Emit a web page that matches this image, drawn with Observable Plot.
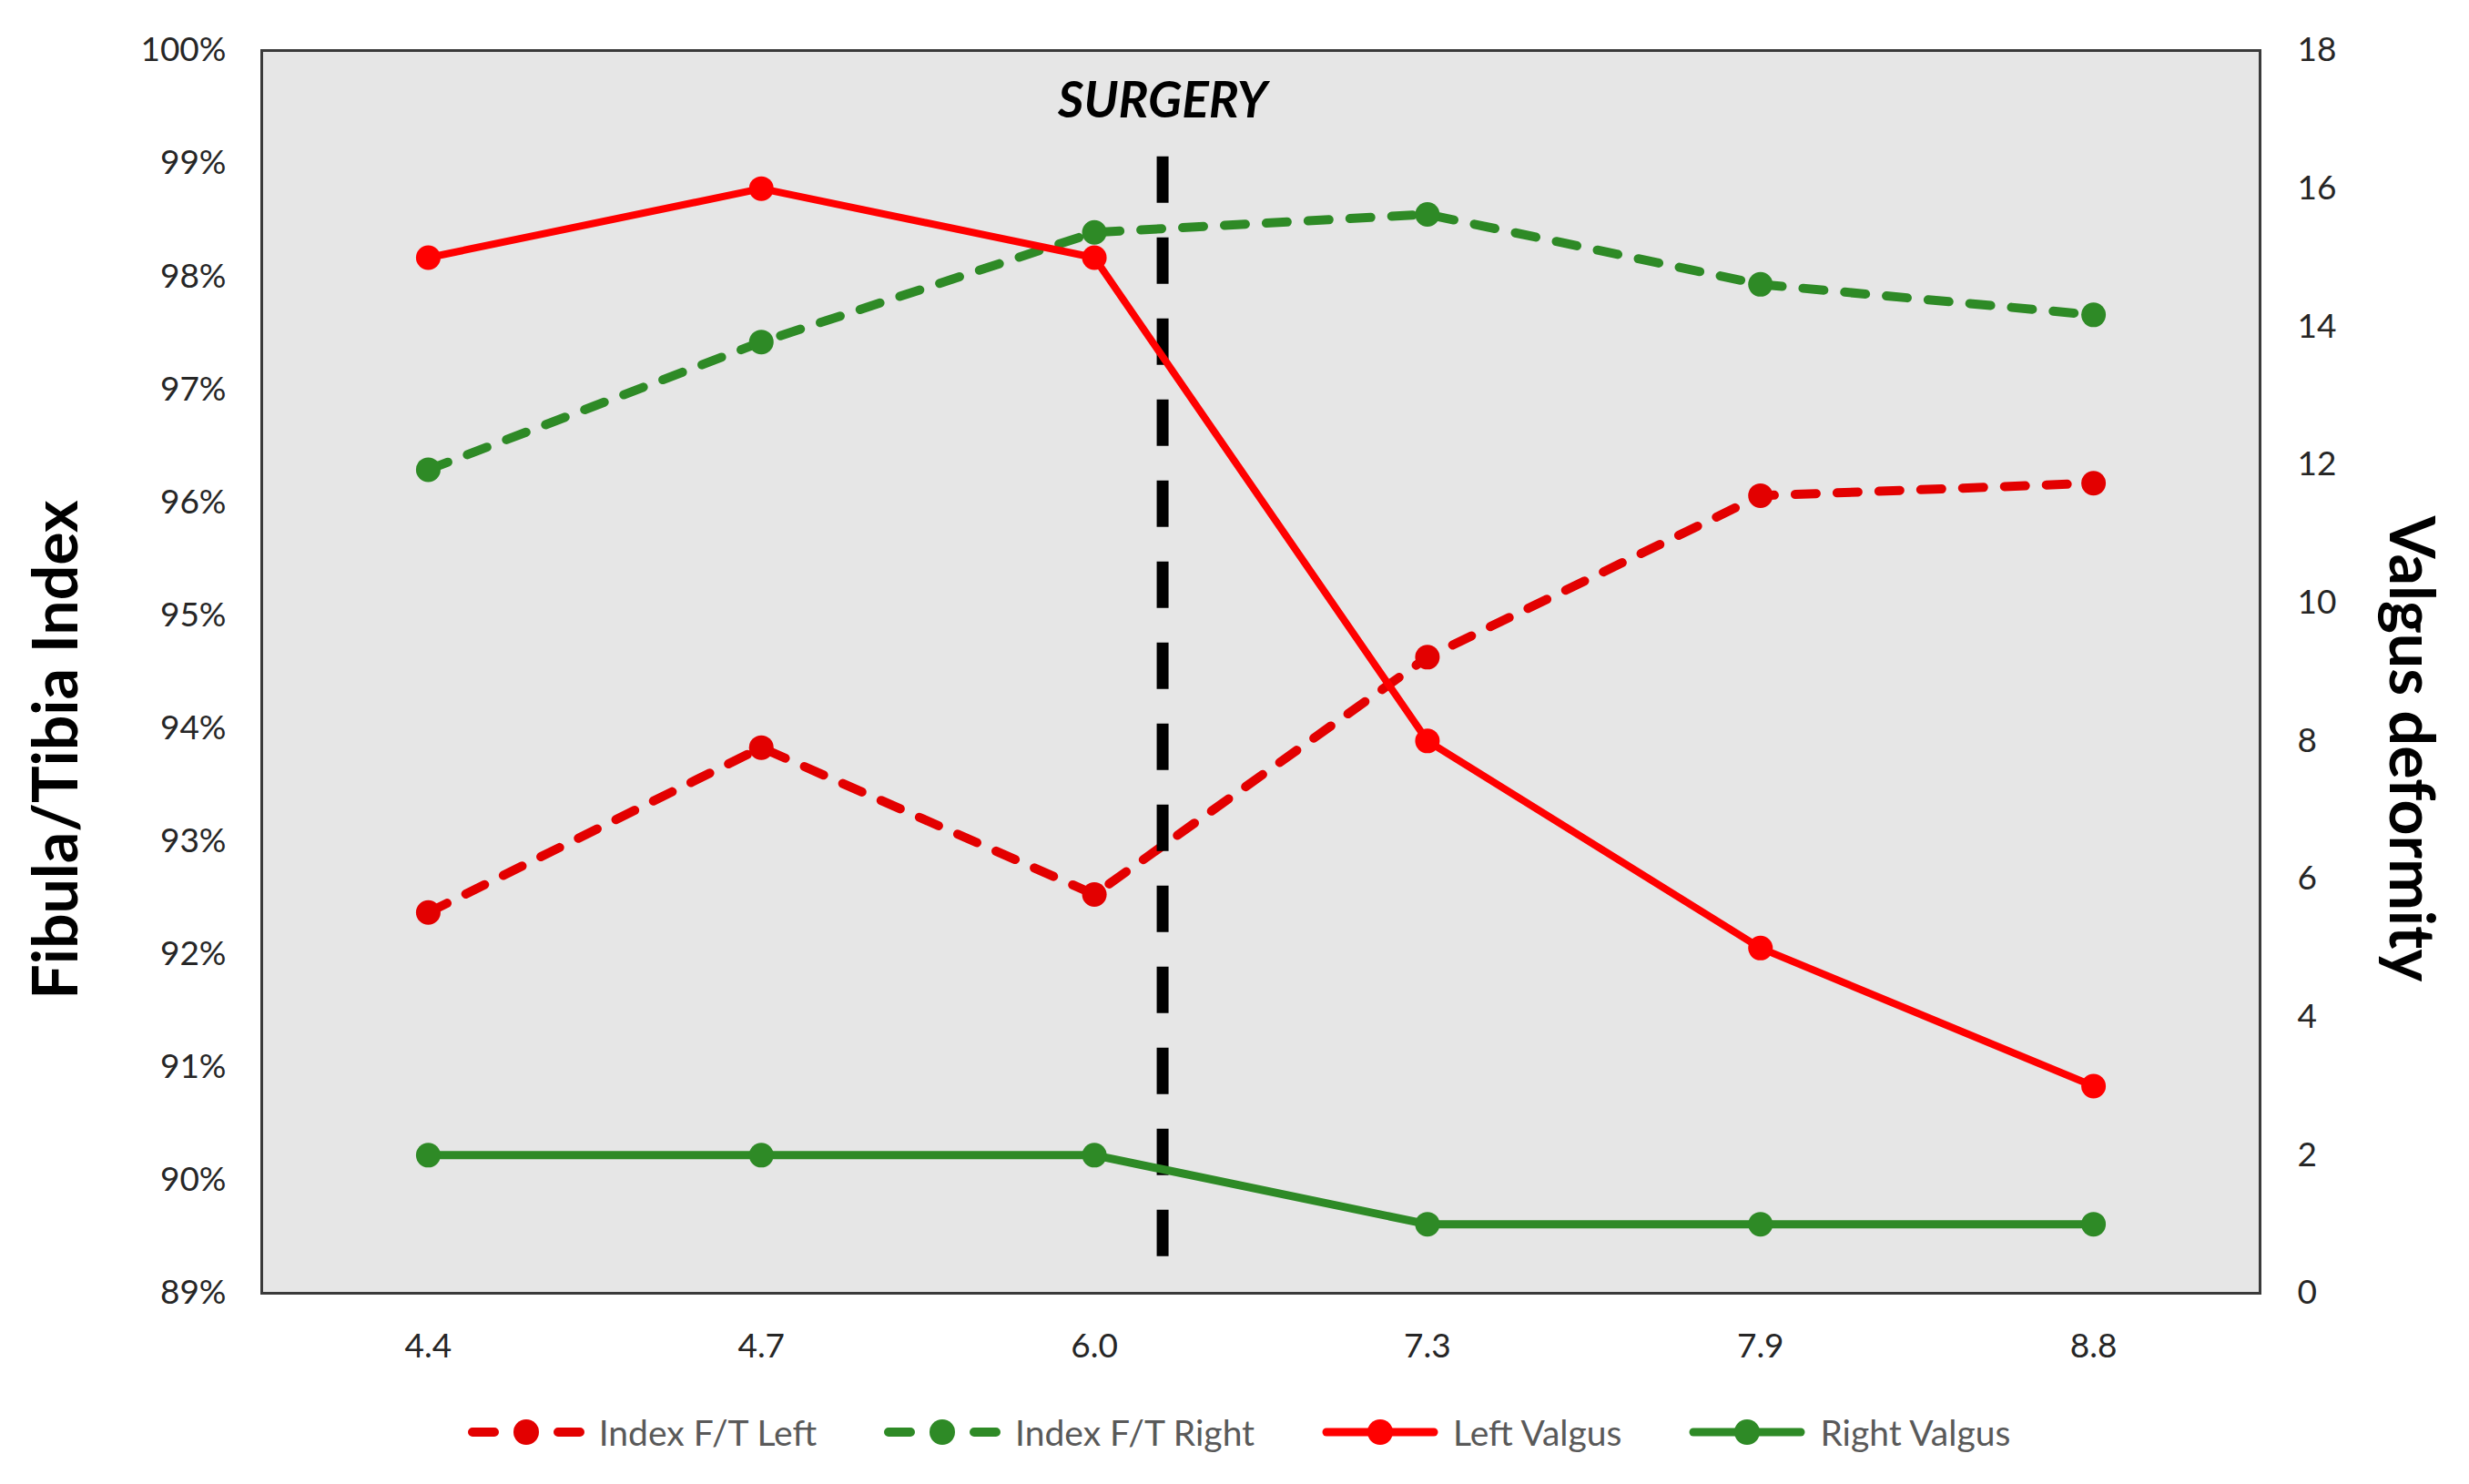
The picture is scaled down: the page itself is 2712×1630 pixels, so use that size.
<!DOCTYPE html>
<html>
<head>
<meta charset="utf-8">
<script src="https://cdn.jsdelivr.net/npm/d3@7"></script>
<script src="https://cdn.jsdelivr.net/npm/@observablehq/plot@0.6"></script>
<style>
  html, body { margin: 0; padding: 0; background: #ffffff; }
  #chart { width: 2712px; }
  #legend { width: 2712px; height: 106px; display: flex; justify-content: center; align-items: center;
            font-family: Lato, "Open Sans", sans-serif; font-size: 39px; color: #595959; padding-left: 10px; box-sizing: border-box; }
  .item { display: flex; align-items: center; margin: 0 37px; }
  .item svg { margin-right: 16px; }
</style>
</head>
<body>
<div id="chart"></div>
<div id="legend"></div>
<script>
// ---- data ----
const ages = ["4.4", "4.7", "6.0", "7.3", "7.9", "8.8"];          // x categories (age, years)
const indexLeft  = [92.37, 93.83, 92.53, 94.63, 96.06, 96.17];    // Index F/T Left (%)
const indexRight = [96.29, 97.42, 98.39, 98.55, 97.93, 97.66];    // Index F/T Right (%)
const valgusLeft  = [15, 16, 15, 8, 5, 3];                        // Left Valgus (right axis)
const valgusRight = [2, 2, 2, 1, 1, 1];                           // Right Valgus (right axis)
const leftTicks  = [89, 90, 91, 92, 93, 94, 95, 96, 97, 98, 99, 100];
const rightTicks = [0, 2, 4, 6, 8, 10, 12, 14, 16, 18];
const seriesNames = ["Index F/T Left", "Index F/T Right", "Left Valgus", "Right Valgus"];
const surgeryAt = 2.205;            // between 6.0 and 7.3
const surgeryLabel = "SURGERY";
const leftTitle = "Fibula/Tibia Index";
const rightTitle = "Valgus deformity";

// ---- dual axis mapping ----
const yMin = 89, yMax = 100, rMin = 0, rMax = 18;
const toY = v => yMin + (v - rMin) * (yMax - yMin) / (rMax - rMin);
const fromY = y => rMin + (y - yMin) * (rMax - rMin) / (yMax - yMin);

const RED_D = "#e30000", RED = "#ff0000", GREEN = "#2e8a26";
const rows = (vals, map = v => v) => vals.map((v, i) => ({i, v: map(v)}));

const W = 2712, H = 1520;
const chart = Plot.plot({
  width: W, height: H,
  marginTop: 55, marginBottom: H - 1420, marginLeft: 287, marginRight: W - 2482,
  x: {domain: [-0.5, ages.length - 0.5]},
  y: {domain: [yMin, yMax]},
  style: {fontFamily: "Lato, 'Open Sans', sans-serif", fontSize: "37px", color: "#262626", background: "#ffffff", overflow: "visible"},
  marks: [
    Plot.frame({fill: "#e6e6e6", stroke: null}),
    Plot.axisX({ticks: d3.range(ages.length), tickFormat: i => ages[i], tickSize: 0, tickPadding: 44, label: null}),
    Plot.axisY({ticks: leftTicks, tickFormat: d => d + "%", tickSize: 0, tickPadding: 39, label: null}),
    Plot.axisY({anchor: "right", ticks: rightTicks.map(toY), tickFormat: d => String(Math.round(fromY(d))), tickSize: 0, tickPadding: 41, label: null}),
    // Index series (left axis)
    Plot.line(rows(indexLeft), {x: "i", y: "v", stroke: RED_D, strokeWidth: 10, strokeDasharray: "23,23", strokeLinecap: "round"}),
    Plot.dot(rows(indexLeft), {x: "i", y: "v", r: 13.5, fill: RED_D, stroke: null}),
    Plot.line(rows(indexRight), {x: "i", y: "v", stroke: GREEN, strokeWidth: 10, strokeDasharray: "23,23", strokeLinecap: "round"}),
    Plot.dot(rows(indexRight), {x: "i", y: "v", r: 13.5, fill: GREEN, stroke: null}),
    // Surgery marker
    Plot.ruleX([surgeryAt], {y1: 99.06, y2: 89.27, stroke: "#000", strokeWidth: 13, strokeDasharray: "51,38", strokeLinecap: "butt"}),
    Plot.text([surgeryLabel], {x: surgeryAt, y: 99.55, fontSize: 55, fontWeight: "bold", fontStyle: "italic", fill: "#000", letterSpacing: "1.5px"}),
    // Valgus series (right axis)
    Plot.line(rows(valgusLeft, toY), {x: "i", y: "v", stroke: RED, strokeWidth: 8}),
    Plot.dot(rows(valgusLeft, toY), {x: "i", y: "v", r: 13.5, fill: RED, stroke: null}),
    Plot.line(rows(valgusRight, toY), {x: "i", y: "v", stroke: GREEN, strokeWidth: 9}),
    Plot.dot(rows(valgusRight, toY), {x: "i", y: "v", r: 13.5, fill: GREEN, stroke: null}),
    // Axis titles
    Plot.text([leftTitle], {frameAnchor: "left", dx: -224, y: 93.81, rotate: -90, textAnchor: "middle", lineAnchor: "middle", fontSize: 68, fontWeight: "bold", fill: "#000"}),
    Plot.text([rightTitle], {frameAnchor: "right", dx: 164, y: 93.82, rotate: 90, textAnchor: "middle", lineAnchor: "middle", fontSize: 68, fontWeight: "bold", fill: "#000"}),
    Plot.frame({stroke: "#3a3a3a", strokeWidth: 3})
  ]
});
document.getElementById("chart").append(chart);

// ---- legend (HTML, below the SVG) ----
const styles = [
  {color: RED_D, dashed: true}, {color: GREEN, dashed: true},
  {color: RED, dashed: false}, {color: GREEN, dashed: false}
];
const legend = document.getElementById("legend");
seriesNames.forEach((name, k) => {
  const s = styles[k];
  const item = document.createElement("div");
  item.className = "item";
  const line = s.dashed
    ? `<line x1="5" y1="20" x2="123" y2="20" stroke="${s.color}" stroke-width="10" stroke-linecap="round" stroke-dasharray="24,35,0,35,24,0"/>`
    : `<line x1="5" y1="20" x2="123" y2="20" stroke="${s.color}" stroke-width="9" stroke-linecap="round"/>`;
  item.innerHTML = `<svg width="128" height="40" viewBox="0 0 128 40">${line}<circle cx="64" cy="20" r="14" fill="${s.color}"/></svg><span>${name}</span>`;
  legend.append(item);
});
</script>
</body>
</html>
